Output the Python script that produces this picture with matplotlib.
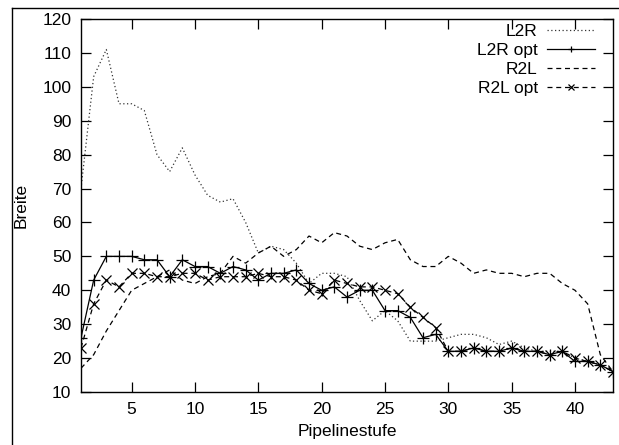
import matplotlib
matplotlib.use("Agg")
import matplotlib.pyplot as plt
from matplotlib.lines import Line2D

stages = list(range(1, 44))
l2r = [70, 103, 111, 95, 95, 93, 80, 75, 82, 74, 68, 66, 67, 60, 51, 53, 52, 48, 42, 45,
       45, 44, 37, 31, 34, 31, 25, 25, 25, 26, 27, 27, 26, 24, 25, 23, 22, 22, 22, 20,
       19, 18, 16]
l2r_opt = [26, 43, 50, 50, 50, 49, 49, 44, 49, 47, 47, 45, 47, 46, 43, 45, 45, 46, 42, 40,
           41, 38, 40, 40, 34, 34, 32, 26, 27, 22, 22, 23, 22, 22, 23, 22, 22, 21, 22, 19,
           19, 18, 16]
r2l = [17, 21, 28, 34, 40, 42, 44, 46, 43, 42, 44, 45, 50, 48, 51, 53, 50, 52, 56, 54,
       57, 56, 53, 52, 54, 55, 49, 47, 47, 50, 48, 45, 46, 45, 45, 44, 45, 45, 42, 40,
       36, 21, 16]
r2l_opt = [23, 36, 43, 41, 45, 45, 44, 44, 45, 45, 43, 44, 44, 44, 45, 44, 44, 43, 40, 39,
           43, 42, 41, 41, 40, 39, 35, 32, 29, 22, 22, 23, 22, 22, 23, 22, 22, 21, 22, 20,
           19, 18, 16]
xticks = [5, 10, 15, 20, 25, 30, 35, 40]
yticks = [10, 20, 30, 40, 50, 60, 70, 80, 90, 100, 110, 120]

plt.rcParams['font.family'] = ['Liberation Sans', 'DejaVu Sans']
plt.rcParams['font.size'] = 12.5

fig = plt.figure(figsize=(6.19, 4.45), dpi=100)
ax = fig.add_axes([81/619, 1-392/445, (613-81)/619, (392-19)/445])

lw = 0.9
ax.plot(stages, l2r, color='#333333', lw=lw, linestyle=(0, (1, 2)), label='L2R')
ax.plot(stages, l2r_opt, color='black', lw=lw, linestyle='-', marker='+', ms=8, mew=0.9,
        label='L2R opt')
ax.plot(stages, r2l, color='black', lw=lw, linestyle=(0, (4, 3)), label='R2L')
ax.plot(stages, r2l_opt, color='black', lw=lw, linestyle=(0, (4, 3)), marker='x', ms=7,
        mew=0.9, label='R2L opt')

ax.set_xlim(1, 43)
ax.set_ylim(10, 120)
ax.set_xticks(xticks)
ax.set_yticks(yticks)
ax.tick_params(direction='in', length=7, width=0.9, top=True, right=True,
               labeltop=False, labelright=False, pad=7)
for s in ax.spines.values():
    s.set_linewidth(1.0)

ax.set_xlabel('Pipelinestufe', labelpad=5)
ax.set_ylabel('Breite', labelpad=10)

leg = ax.legend(loc='upper right', bbox_to_anchor=(1.0 - 18/532, 1.0 - 5/373),
                frameon=False, markerfirst=False, handlelength=2.75, handletextpad=0.55,
                labelspacing=0.22, borderaxespad=0.0, borderpad=0.0)
for h in leg.legend_handles:
    h.set_markersize(5)

# outer frame lines (top and left)
fig.add_artist(Line2D([12/619, 1.0], [1-7.5/445, 1-7.5/445], transform=fig.transFigure,
                      color='black', lw=1.0))
fig.add_artist(Line2D([12/619, 12/619], [0.0, 1-7.5/445], transform=fig.transFigure,
                      color='black', lw=1.0))

fig.savefig('out.png', dpi=100)
